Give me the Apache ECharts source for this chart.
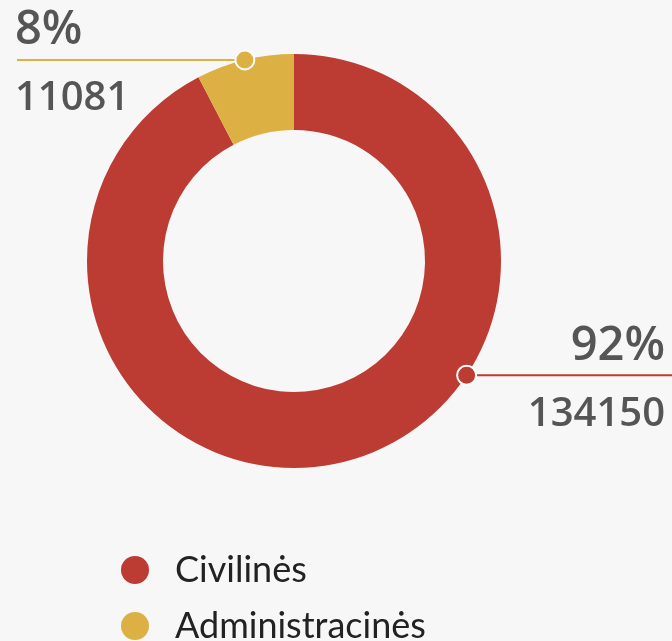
<!DOCTYPE html>
<html>
<head>
<meta charset="utf-8">
<script src="https://cdn.jsdelivr.net/npm/echarts@6/dist/echarts.min.js"></script>
<style>
html,body{margin:0;padding:0;background:#f7f7f7;}
#chart{width:672px;height:641px;}
</style>
</head>
<body>
<div id="chart"></div>
<script>
const categories = ['Civilinės', 'Administracinės'];
const values = [134150, 11081];
const colors = ['#bc3b32', '#dcb043'];

// layout constants
const CX = 294, CY = 261, R_IN = 131, R_OUT = 207;
const redAnchorAngle = 123.5; // degrees clockwise from top where the red label line starts
const TOP_LH = 58, BOTTOM_LH = 78;

const total = values.reduce((a, b) => a + b, 0);
const yellowMid = (values[0] + values[1] / 2) / total * 360;
const anchorAngles = [redAnchorAngle, yellowMid];
function anchorPx(a) {
  const r = a * Math.PI / 180;
  return [CX + R_OUT * Math.sin(r), CY - R_OUT * Math.cos(r)];
}

const chart = echarts.init(document.getElementById('chart'));
chart.setOption({
  backgroundColor: '#f7f7f7',
  animation: false,
  legend: {
    data: categories,
    orient: 'vertical',
    left: 121,
    top: 552,
    height: 120,
    padding: 0,
    icon: 'circle',
    itemWidth: 28,
    itemHeight: 28,
    itemGap: 20,
    textStyle: { fontFamily: 'Lato', fontSize: 36, color: '#222', padding: [0, 0, 0, 21] }
  },
  polar: { center: [CX, CY], radius: R_OUT },
  angleAxis: { type: 'value', min: 0, max: 360, startAngle: 90, clockwise: true, show: false },
  radiusAxis: { type: 'value', min: 0, max: 1, show: false },
  series: [
    {
      type: 'pie',
      name: 'share',
      center: [CX, CY],
      radius: [R_IN, R_OUT],
      startAngle: 90,
      clockwise: true,
      silent: true,
      data: categories.map((n, i) => ({ name: n, value: values[i], itemStyle: { color: colors[i] } })),
      label: {
        show: true,
        position: 'outside',
        formatter: p => '{p|' + Math.round(p.percent) + '%}\n{v|' + p.value + '}',
        rich: {
          p: { fontFamily: 'Open Sans', fontWeight: 600, fontSize: 47, color: '#555', lineHeight: TOP_LH },
          v: { fontFamily: 'Open Sans', fontWeight: 600, fontSize: 40, color: '#555', lineHeight: BOTTOM_LH }
        }
      },
      labelLine: { show: true, lineStyle: { width: 2 } },
      labelLayout: function (params) {
        const i = params.dataIndex;
        const a = anchorPx(anchorAngles[i]);
        if (i === 1) {
          return {
            x: 15, y: a[1] - TOP_LH, align: 'left', verticalAlign: 'top',
            labelLinePoints: [a, [(a[0] + 17) / 2, a[1]], [17, a[1]]]
          };
        }
        return {
          x: 665, y: a[1] - TOP_LH, align: 'right', verticalAlign: 'top',
          labelLinePoints: [a, [(a[0] + 672) / 2, a[1]], [672, a[1]]]
        };
      }
    },
    {
      type: 'scatter',
      name: 'anchors',
      coordinateSystem: 'polar',
      silent: true,
      z: 5,
      symbol: 'circle',
      symbolSize: 19,
      data: anchorAngles.map((a, i) => ({ value: [1, a], itemStyle: { color: colors[i] } })),
      itemStyle: { borderColor: '#fff', borderWidth: 2, opacity: 1 }
    }
  ]
});
</script>
</body>
</html>
